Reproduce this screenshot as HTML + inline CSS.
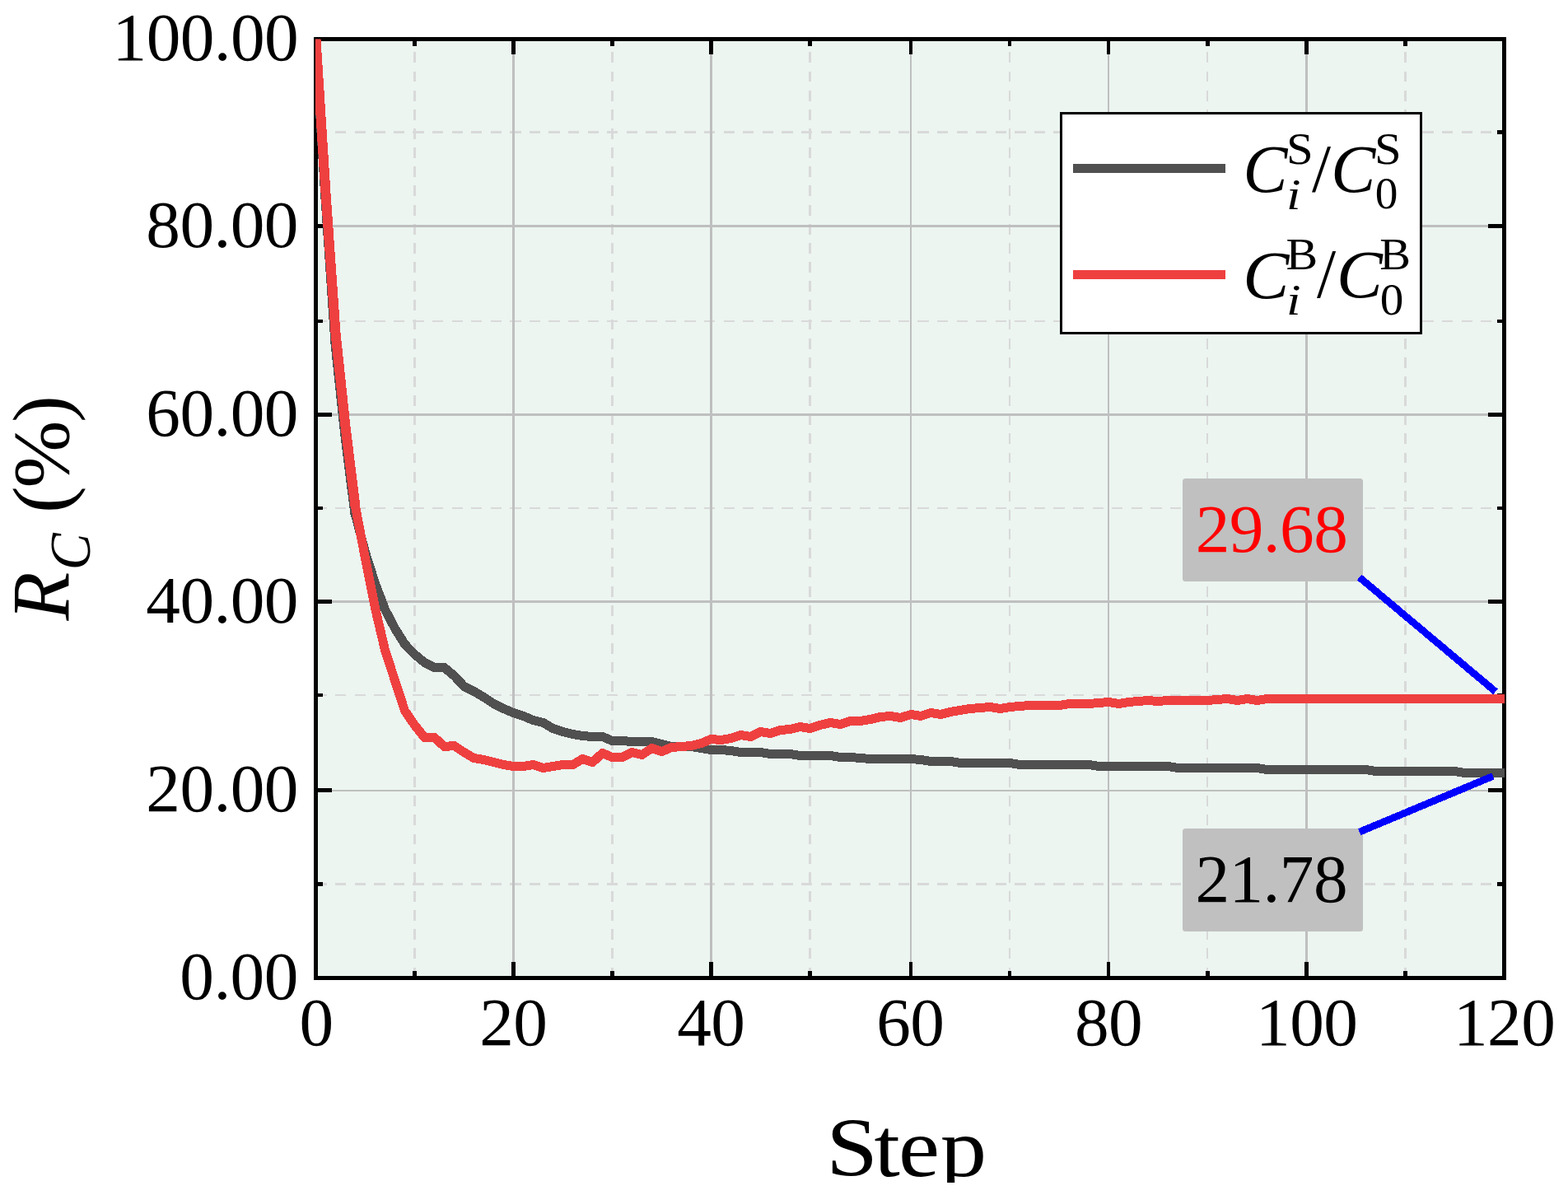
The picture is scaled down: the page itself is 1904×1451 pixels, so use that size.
<!DOCTYPE html>
<html lang="en"><head><meta charset="utf-8"><title>R_C (%) vs Step</title>
<style>html,body{margin:0;padding:0;background:#fff;overflow:hidden}svg{display:block}text{font-family:"Liberation Serif",serif;white-space:pre}</style>
</head><body>
<svg width="1904" height="1451" viewBox="0 0 1904 1451">
<defs><clipPath id="axclip"><rect x="383" y="47.5" width="1444" height="1140"/></clipPath><clipPath id="pageclip"><rect x="0" y="0" width="1904" height="1436"/></clipPath></defs>
<rect width="1904" height="1451" fill="#fff"/>
<rect x="383.5" y="47.5" width="1443" height="1140" fill="#ECF5F0"/>
<g stroke="#D9D9D9" fill="none" shape-rendering="crispEdges">
<line x1="503.5" y1="1187.5" x2="503.5" y2="47.5" stroke-width="3" stroke-dasharray="12.9 10.25"/>
<line x1="743.5" y1="1187.5" x2="743.5" y2="47.5" stroke-width="3" stroke-dasharray="12.9 10.25"/>
<line x1="983.5" y1="1187.5" x2="983.5" y2="47.5" stroke-width="3" stroke-dasharray="12.9 10.25"/>
<line x1="1226" y1="1187.5" x2="1226" y2="47.5" stroke-width="2" stroke-dasharray="12.9 10.25"/>
<line x1="1466" y1="1187.5" x2="1466" y2="47.5" stroke-width="2" stroke-dasharray="12.9 10.25"/>
<line x1="1706.5" y1="1187.5" x2="1706.5" y2="47.5" stroke-width="3" stroke-dasharray="12.9 10.25"/>
<line x1="383.5" y1="160.5" x2="1826.5" y2="160.5" stroke-width="3" stroke-dasharray="13.3 10.277"/>
<line x1="383.5" y1="390" x2="1826.5" y2="390" stroke-width="2" stroke-dasharray="13.3 10.277"/>
<line x1="383.5" y1="617" x2="1826.5" y2="617" stroke-width="2" stroke-dasharray="13.3 10.277"/>
<line x1="383.5" y1="844" x2="1826.5" y2="844" stroke-width="2" stroke-dasharray="13.3 10.277"/>
<line x1="383.5" y1="1073.5" x2="1826.5" y2="1073.5" stroke-width="3" stroke-dasharray="13.3 10.277"/>
</g>
<g fill="#BFBFBF" shape-rendering="crispEdges">
<rect x="622" y="47.5" width="3" height="1140"/>
<rect x="862" y="47.5" width="3" height="1140"/>
<rect x="1105" y="47.5" width="2" height="1140"/>
<rect x="1345" y="47.5" width="2" height="1140"/>
<rect x="1585" y="47.5" width="3" height="1140"/>
<rect x="383.5" y="273" width="1443" height="3"/>
<rect x="383.5" y="502" width="1443" height="3"/>
<rect x="383.5" y="729" width="1443" height="3"/>
<rect x="383.5" y="959" width="1443" height="2"/>
</g>
<g fill="#000" shape-rendering="crispEdges">
<path fill-rule="evenodd" d="M381 45H1829V1190H381Z M386 50V1185H1824V50Z"/>
<rect x="501" y="1179" width="5" height="6"/>
<rect x="501" y="50" width="5" height="6"/>
<rect x="621" y="1168" width="5" height="17"/>
<rect x="621" y="50" width="5" height="16"/>
<rect x="741" y="1179" width="5" height="6"/>
<rect x="741" y="50" width="5" height="6"/>
<rect x="861" y="1168" width="5" height="17"/>
<rect x="861" y="50" width="5" height="16"/>
<rect x="981" y="1179" width="5" height="6"/>
<rect x="981" y="50" width="5" height="6"/>
<rect x="1104" y="1168" width="4" height="17"/>
<rect x="1104" y="50" width="4" height="16"/>
<rect x="1224" y="1179" width="4" height="6"/>
<rect x="1224" y="50" width="4" height="6"/>
<rect x="1344" y="1168" width="4" height="17"/>
<rect x="1344" y="50" width="4" height="16"/>
<rect x="1464" y="1179" width="5" height="6"/>
<rect x="1464" y="50" width="5" height="6"/>
<rect x="1584" y="1168" width="5" height="17"/>
<rect x="1584" y="50" width="5" height="16"/>
<rect x="1704" y="1179" width="5" height="6"/>
<rect x="1704" y="50" width="5" height="6"/>
<rect x="386" y="158" width="6" height="5"/>
<rect x="1818" y="158" width="6" height="5"/>
<rect x="386" y="272" width="17" height="5"/>
<rect x="1807" y="272" width="17" height="5"/>
<rect x="386" y="388" width="6" height="4"/>
<rect x="1818" y="388" width="6" height="4"/>
<rect x="386" y="501" width="17" height="5"/>
<rect x="1807" y="501" width="17" height="5"/>
<rect x="386" y="615" width="6" height="4"/>
<rect x="1818" y="615" width="6" height="4"/>
<rect x="386" y="728" width="17" height="5"/>
<rect x="1807" y="728" width="17" height="5"/>
<rect x="386" y="842" width="6" height="4"/>
<rect x="1818" y="842" width="6" height="4"/>
<rect x="386" y="957" width="17" height="5"/>
<rect x="1807" y="957" width="17" height="5"/>
<rect x="386" y="1071" width="6" height="5"/>
<rect x="1818" y="1071" width="6" height="5"/>
</g>
<g clip-path="url(#axclip)" fill="none" stroke-linejoin="round" stroke-linecap="butt" shape-rendering="crispEdges">
<g stroke="#505050">
<polyline stroke-width="9" shape-rendering="geometricPrecision" points="419.5,530.5 431.5,625.0 443.5,670.6 455.5,708.3 467.5,740.0 479.5,763.0 491.5,782.2 503.5,794.5 515.5,804.5 527.5,810.5 539.5,810.5 551.5,820.5 563.5,833.5 575.5,839.5 587.5,846.5 599.5,854.5 611.5,860.5 623.5,865.5 635.5,869.5 647.5,874.5 659.5,877.5 671.5,884.5 683.5,888.5 695.5,891.5 707.5,893.5 719.5,894.5 731.5,894.5 743.5,899.5 755.5,899.5 767.5,900.5 779.5,900.5 791.5,900.5 803.5,903.5 815.5,906.5 827.5,906.5 839.5,906.5 851.5,908.5 863.5,910.5 875.5,910.5 887.5,911.5 899.5,913.5 911.5,913.5 923.5,913.5 935.5,915.5 947.5,915.5 959.5,915.5 971.5,917.5 983.5,917.5 995.8,917.5 1008.0,917.5 1020.2,919.5 1032.5,919.5 1044.8,920.5 1057.0,921.5 1069.2,921.5 1081.5,921.5 1093.8,921.5 1106.0,921.5 1118.0,922.5 1130.0,924.5 1142.0,924.5 1154.0,924.5 1166.0,926.5 1178.0,926.5 1190.1,926.5 1202.1,926.5 1214.1,926.5 1226.1,926.5 1238.1,928.5 1250.1,928.5 1262.1,928.5 1274.1,928.5 1286.1,928.5 1298.1,928.5 1310.1,928.5 1322.1,928.5 1334.2,930.5 1346.2,930.5 1358.2,930.5 1370.2,930.5 1382.2,930.5 1394.2,930.5 1406.2,930.5 1418.2,930.5 1430.2,932.5 1442.2,932.5 1454.2,932.5 1466.2,932.5 1478.3,932.5 1490.3,932.5 1502.3,932.5 1514.3,932.5 1526.3,932.5 1538.3,934.5 1550.3,934.5 1562.3,934.5 1574.3,934.5 1586.3,934.5 1598.3,934.5 1610.3,934.5 1622.4,934.5 1634.4,934.5 1646.4,934.5 1658.4,934.5 1670.4,936.5 1682.4,936.5 1694.4,936.5 1706.4,936.5 1718.4,936.5 1730.4,936.5 1742.4,936.5 1754.4,936.5 1766.5,936.5 1778.5,938.5 1790.5,938.5 1802.5,938.5 1814.5,938.5 1826.5,938.5 1832.5,938.5"/>
<polyline stroke-width="11.9" points="383.5,47.5 395.5,242.0 407.5,418.0 419.5,530.5 431.5,625.0"/>
<polyline stroke-width="11" points="419.5,530.5 431.5,625.0 443.5,670.6 455.5,708.3 467.5,740.0 479.5,763.0 491.5,782.2 503.5,794.5 515.5,804.5 527.5,810.5 539.5,810.5 551.5,820.5 563.5,833.5 575.5,839.5 587.5,846.5 599.5,854.5 611.5,860.5 623.5,865.5 635.5,869.5 647.5,874.5 659.5,877.5 671.5,884.5 683.5,888.5 695.5,891.5 707.5,893.5 719.5,894.5 731.5,894.5 743.5,899.5 755.5,899.5 767.5,900.5 779.5,900.5 791.5,900.5 803.5,903.5 815.5,906.5 827.5,906.5 839.5,906.5 851.5,908.5 863.5,910.5 875.5,910.5 887.5,911.5 899.5,913.5 911.5,913.5 923.5,913.5 935.5,915.5 947.5,915.5 959.5,915.5 971.5,917.5 983.5,917.5 995.8,917.5 1008.0,917.5 1020.2,919.5 1032.5,919.5 1044.8,920.5 1057.0,921.5 1069.2,921.5 1081.5,921.5 1093.8,921.5 1106.0,921.5 1118.0,922.5 1130.0,924.5 1142.0,924.5 1154.0,924.5 1166.0,926.5 1178.0,926.5 1190.1,926.5 1202.1,926.5 1214.1,926.5 1226.1,926.5 1238.1,928.5 1250.1,928.5 1262.1,928.5 1274.1,928.5 1286.1,928.5 1298.1,928.5 1310.1,928.5 1322.1,928.5 1334.2,930.5 1346.2,930.5 1358.2,930.5 1370.2,930.5 1382.2,930.5 1394.2,930.5 1406.2,930.5 1418.2,930.5 1430.2,932.5 1442.2,932.5 1454.2,932.5 1466.2,932.5 1478.3,932.5 1490.3,932.5 1502.3,932.5 1514.3,932.5 1526.3,932.5 1538.3,934.5 1550.3,934.5 1562.3,934.5 1574.3,934.5 1586.3,934.5 1598.3,934.5 1610.3,934.5 1622.4,934.5 1634.4,934.5 1646.4,934.5 1658.4,934.5 1670.4,936.5 1682.4,936.5 1694.4,936.5 1706.4,936.5 1718.4,936.5 1730.4,936.5 1742.4,936.5 1754.4,936.5 1766.5,936.5 1778.5,938.5 1790.5,938.5 1802.5,938.5 1814.5,938.5 1826.5,938.5 1832.5,938.5"/>
</g>
<g stroke="#EF4040">
<polyline stroke-width="9" shape-rendering="geometricPrecision" points="419.5,517.9 431.5,615.0 443.5,677.8 455.5,738.4 467.5,789.2 479.5,826.2 491.5,863.0 503.5,880.5 515.5,895.5 527.5,895.5 539.5,906.5 551.5,905.5 563.5,913.5 575.5,920.5 587.5,922.5 599.5,925.5 611.5,928.5 623.5,930.5 635.5,930.5 647.5,928.5 659.5,932.5 671.5,930.5 683.5,928.5 695.5,928.5 707.5,921.5 719.5,925.5 731.5,914.5 743.5,919.5 755.5,919.5 767.5,913.5 779.5,916.5 791.5,908.5 803.5,912.5 815.5,907.5 827.5,906.5 839.5,905.5 851.5,902.5 863.5,897.5 875.5,898.5 887.5,896.5 899.5,892.5 911.5,894.5 923.5,888.5 935.5,890.5 947.5,886.5 959.5,885.5 971.5,882.5 983.5,884.5 995.8,880.5 1008.0,877.5 1020.2,879.5 1032.5,875.5 1044.8,875.5 1057.0,873.5 1069.2,870.5 1081.5,869.5 1093.8,871.5 1106.0,867.5 1118.0,869.5 1130.0,865.5 1142.0,867.5 1154.0,864.5 1166.0,862.5 1178.0,860.5 1190.1,859.5 1202.1,858.5 1214.1,860.5 1226.1,858.5 1238.1,857.5 1250.1,856.5 1262.1,856.5 1274.1,856.5 1286.1,856.5 1298.1,854.5 1310.1,854.5 1322.1,854.5 1334.2,853.5 1346.2,852.5 1358.2,854.5 1370.2,852.5 1382.2,851.5 1394.2,850.5 1406.2,851.5 1418.2,850.5 1430.2,850.5 1442.2,850.5 1454.2,850.5 1466.2,850.5 1478.3,849.5 1490.3,848.5 1502.3,850.5 1514.3,848.5 1526.3,850.5 1538.3,848.5 1550.3,848.5 1562.3,848.5 1574.3,848.5 1586.3,848.5 1598.3,848.5 1610.3,848.5 1622.4,848.5 1634.4,848.5 1646.4,848.5 1658.4,848.5 1670.4,848.5 1682.4,848.5 1694.4,848.5 1706.4,848.5 1718.4,848.5 1730.4,848.5 1742.4,848.5 1754.4,848.5 1766.5,848.5 1778.5,848.5 1790.5,848.5 1802.5,848.5 1814.5,848.5 1826.5,848.5 1832.5,848.5"/>
<polyline stroke-width="11.9" points="383.5,47.5 395.5,234.3 407.5,404.0 419.5,517.9 431.5,615.0"/>
<polyline stroke-width="11" points="419.5,517.9 431.5,615.0 443.5,677.8 455.5,738.4 467.5,789.2 479.5,826.2 491.5,863.0 503.5,880.5 515.5,895.5 527.5,895.5 539.5,906.5 551.5,905.5 563.5,913.5 575.5,920.5 587.5,922.5 599.5,925.5 611.5,928.5 623.5,930.5 635.5,930.5 647.5,928.5 659.5,932.5 671.5,930.5 683.5,928.5 695.5,928.5 707.5,921.5 719.5,925.5 731.5,914.5 743.5,919.5 755.5,919.5 767.5,913.5 779.5,916.5 791.5,908.5 803.5,912.5 815.5,907.5 827.5,906.5 839.5,905.5 851.5,902.5 863.5,897.5 875.5,898.5 887.5,896.5 899.5,892.5 911.5,894.5 923.5,888.5 935.5,890.5 947.5,886.5 959.5,885.5 971.5,882.5 983.5,884.5 995.8,880.5 1008.0,877.5 1020.2,879.5 1032.5,875.5 1044.8,875.5 1057.0,873.5 1069.2,870.5 1081.5,869.5 1093.8,871.5 1106.0,867.5 1118.0,869.5 1130.0,865.5 1142.0,867.5 1154.0,864.5 1166.0,862.5 1178.0,860.5 1190.1,859.5 1202.1,858.5 1214.1,860.5 1226.1,858.5 1238.1,857.5 1250.1,856.5 1262.1,856.5 1274.1,856.5 1286.1,856.5 1298.1,854.5 1310.1,854.5 1322.1,854.5 1334.2,853.5 1346.2,852.5 1358.2,854.5 1370.2,852.5 1382.2,851.5 1394.2,850.5 1406.2,851.5 1418.2,850.5 1430.2,850.5 1442.2,850.5 1454.2,850.5 1466.2,850.5 1478.3,849.5 1490.3,848.5 1502.3,850.5 1514.3,848.5 1526.3,850.5 1538.3,848.5 1550.3,848.5 1562.3,848.5 1574.3,848.5 1586.3,848.5 1598.3,848.5 1610.3,848.5 1622.4,848.5 1634.4,848.5 1646.4,848.5 1658.4,848.5 1670.4,848.5 1682.4,848.5 1694.4,848.5 1706.4,848.5 1718.4,848.5 1730.4,848.5 1742.4,848.5 1754.4,848.5 1766.5,848.5 1778.5,848.5 1790.5,848.5 1802.5,848.5 1814.5,848.5 1826.5,848.5 1832.5,848.5"/>
</g>
</g>
<rect x="1436" y="581" width="219" height="125" rx="3.5" fill="#C0C0C0"/>
<rect x="1436" y="1006" width="219" height="125" rx="3.5" fill="#C0C0C0"/>
<g stroke="#0000FF" stroke-width="8.7" fill="none" shape-rendering="crispEdges">
<line x1="1650.7" y1="701" x2="1816" y2="839.8"/>
<line x1="1650.8" y1="1010.2" x2="1812.9" y2="942.4"/>
</g>
<rect x="1288.5" y="137.5" width="437" height="267" fill="#fff" stroke="#000" stroke-width="3" shape-rendering="crispEdges"/>
<line x1="1303" y1="204.6" x2="1488" y2="204.6" stroke="#505050" stroke-width="10.8" shape-rendering="crispEdges"/>
<line x1="1303" y1="333.4" x2="1488" y2="333.4" stroke="#EF4040" stroke-width="10.8" shape-rendering="crispEdges"/>
<g id="texts" fill="#000" clip-path="url(#pageclip)">
<text id="y100" transform="translate(362.15 72.55) scale(1.0000 0.9965)" font-size="83.333" text-anchor="end" letter-spacing="-0.600">100.00</text>
<text id="y80" transform="translate(361.85 299.75) scale(1.0000 0.9752)" font-size="83.333" text-anchor="end" letter-spacing="-0.600">80.00</text>
<text id="y60" transform="translate(361.85 529.00) scale(1.0000 0.9806)" font-size="83.333" text-anchor="end" letter-spacing="-0.600">60.00</text>
<text id="y40" transform="translate(361.85 755.90) scale(1.0000 0.9771)" font-size="83.333" text-anchor="end" letter-spacing="-0.600">40.00</text>
<text id="y20" transform="translate(361.85 985.25) scale(1.0000 0.9859)" font-size="83.333" text-anchor="end" letter-spacing="-0.600">20.00</text>
<text id="y0" transform="translate(361.75 1213.00) scale(1.0000 0.9806)" font-size="83.333" text-anchor="end" letter-spacing="-0.600">0.00</text>
<text id="x0" transform="translate(384.10 1269.48) scale(1.0000 0.9796)" font-size="83.333" text-anchor="middle" letter-spacing="-0.600">0</text>
<text id="x20" transform="translate(623.35 1269.48) scale(1.0000 0.9796)" font-size="83.333" text-anchor="middle" letter-spacing="-0.600">20</text>
<text id="x40" transform="translate(863.20 1269.48) scale(1.0000 0.9796)" font-size="83.333" text-anchor="middle" letter-spacing="-0.600">40</text>
<text id="x60" transform="translate(1105.30 1269.48) scale(1.0000 0.9796)" font-size="83.333" text-anchor="middle" letter-spacing="-0.600">60</text>
<text id="x80" transform="translate(1345.95 1269.48) scale(1.0000 0.9796)" font-size="83.333" text-anchor="middle" letter-spacing="-0.600">80</text>
<text id="x100" transform="translate(1586.70 1269.35) scale(1.0000 0.9841)" font-size="83.333" text-anchor="middle" letter-spacing="-0.600">100</text>
<text id="x120" transform="translate(1826.60 1269.48) scale(1.0000 0.9796)" font-size="83.333" text-anchor="middle" letter-spacing="-0.600">120</text>
<text id="a1" transform="translate(1451.75 670.15) scale(1.0000 0.9965)" font-size="83.333" fill="#FF0000" letter-spacing="-0.600">29.68</text>
<text id="a2" transform="translate(1451.50 1094.78) scale(1.0000 0.9956)" font-size="83.333" letter-spacing="-0.600">21.78</text>
<text id="leg1"><tspan id="l1C1" x="1509.47" y="232.60" font-size="82.89" font-style="italic" textLength="53.92" lengthAdjust="spacingAndGlyphs">C</tspan><tspan id="l1S1" x="1562.07" y="198.55" font-size="55.31" textLength="32.66" lengthAdjust="spacingAndGlyphs">S</tspan><tspan id="l1i" x="1562.12" y="253.97" font-size="53.56" font-style="italic" textLength="17.58" lengthAdjust="spacingAndGlyphs">i</tspan><tspan id="l1sl" x="1592.95" y="232.15" font-size="83.04" textLength="23.05" lengthAdjust="spacingAndGlyphs">/</tspan><tspan id="l1C2" x="1616.22" y="232.60" font-size="82.89" font-style="italic" textLength="54.02" lengthAdjust="spacingAndGlyphs">C</tspan><tspan id="l1S2" x="1668.97" y="198.55" font-size="55.31" textLength="32.66" lengthAdjust="spacingAndGlyphs">S</tspan><tspan id="l1z" x="1669.80" y="253.40" font-size="55.31" textLength="27.66" lengthAdjust="spacingAndGlyphs">0</tspan></text>
<text id="leg2"><tspan id="l2C1" x="1509.25" y="361.65" font-size="82.59" font-style="italic" textLength="56.12" lengthAdjust="spacingAndGlyphs">C</tspan><tspan id="l2B1" x="1561.42" y="326.88" font-size="54.60" textLength="38.65" lengthAdjust="spacingAndGlyphs">B</tspan><tspan id="l2i" x="1562.12" y="382.27" font-size="53.56" font-style="italic" textLength="17.58" lengthAdjust="spacingAndGlyphs">i</tspan><tspan id="l2sl" x="1599.10" y="361.12" font-size="85.50" textLength="23.16" lengthAdjust="spacingAndGlyphs">/</tspan><tspan id="l2C2" x="1623.08" y="361.40" font-size="82.59" font-style="italic" textLength="55.86" lengthAdjust="spacingAndGlyphs">C</tspan><tspan id="l2B2" x="1675.28" y="326.88" font-size="54.60" textLength="37.74" lengthAdjust="spacingAndGlyphs">B</tspan><tspan id="l2z" x="1675.80" y="381.75" font-size="55.91" textLength="28.61" lengthAdjust="spacingAndGlyphs">0</tspan></text>
<text id="yl" transform="rotate(-90)"><tspan id="ylR" x="-753.55" y="82.92" font-size="99.47" font-style="italic" textLength="58.95" lengthAdjust="spacingAndGlyphs">R</tspan><tspan id="ylC" x="-692.27" y="109.35" font-size="68.96" font-style="italic" textLength="44.80" lengthAdjust="spacingAndGlyphs">C</tspan><tspan id="ylp" x="-647.88 -622.88 -592.50 -512.88" y="83.20" font-size="98.35"> (%)</tspan></text>
<text id="xl" transform="translate(0 1428.00) scale(1.1273 1.0074)" font-size="100" x="889.92 941.70 967.91 1012.78" y="0">Step</text>
</g>
</svg>
</body></html>
